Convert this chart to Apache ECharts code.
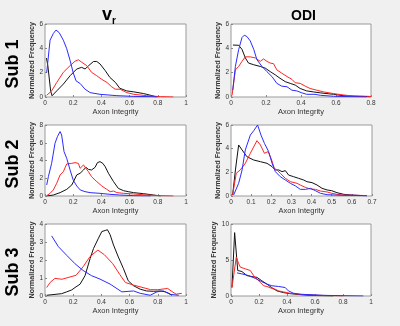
<!DOCTYPE html>
<html lang="en">
<head>
    <meta charset="UTF-8">
    <title>Axon integrity histograms</title>
    <script src="https://cdn.jsdelivr.net/npm/echarts@6/dist/echarts.min.js"></script>
    <style>
        *{margin:0;padding:0;overflow:hidden;}
        body{background:#f0f0f0;}
        #main{width:400px;height:326px;}
    </style>
</head>
<body>
<div id="main"></div>
<script>
    // [axon integrity, normalized frequency]
    var sub1VrBlue=[[0.012,2.0],[0.036,4.67],[0.059,5.22],[0.078,5.5],[0.10,5.3],[0.13,4.67],[0.154,3.97],[0.178,3.0],[0.20,2.0],[0.22,1.33],[0.25,1.1],[0.284,0.64],[0.32,0.36],[0.39,0.22],[0.51,0.11],[0.63,0.05],[0.75,0.03],[0.8,0]]
    var sub1VrRed=[[0.012,0.14],[0.047,0.5],[0.083,1.19],[0.13,2.03],[0.178,2.58],[0.213,2.94],[0.237,3.06],[0.26,2.86],[0.272,3.0],[0.296,2.58],[0.33,2.03],[0.367,1.75],[0.40,1.47],[0.44,1.19],[0.474,0.83],[0.498,0.64],[0.533,0.64],[0.58,0.36],[0.63,0.22],[0.72,0.11],[0.82,0.03],[0.91,0]]
    var sub1VrBlack=[[0.01,3.2],[0.02,2.6],[0.04,0.5],[0.05,0.1],[0.083,0.5],[0.13,1.06],[0.178,1.75],[0.225,2.3],[0.26,2.44],[0.284,2.3],[0.31,2.58],[0.344,2.92],[0.367,2.92],[0.39,2.72],[0.427,2.17],[0.46,1.61],[0.50,1.19],[0.53,0.72],[0.58,0.5],[0.63,0.42],[0.70,0.28],[0.77,0.08],[0.79,0]]

    var sub1OdiBlue=[[0.01,0.56],[0.025,2.51],[0.044,3.91],[0.063,4.89],[0.076,5.08],[0.091,4.97],[0.11,4.61],[0.13,3.91],[0.148,3.07],[0.177,2.51],[0.205,2.09],[0.234,1.68],[0.262,1.12],[0.29,0.89],[0.32,0.84],[0.348,0.56],[0.376,0.5],[0.405,0.34],[0.433,0.22],[0.48,0.22],[0.51,0.14],[0.586,0.06],[0.68,0.03],[0.776,0]]
    var sub1OdiRed=[[0.006,0.14],[0.025,2.23],[0.044,2.51],[0.063,2.93],[0.082,3.3],[0.11,3.3],[0.139,3.21],[0.167,2.93],[0.186,3.13],[0.205,2.93],[0.224,2.79],[0.243,2.74],[0.262,2.23],[0.29,1.96],[0.32,1.68],[0.348,1.45],[0.367,1.17],[0.395,1.12],[0.424,0.89],[0.452,0.7],[0.49,0.56],[0.528,0.42],[0.586,0.28],[0.64,0.17],[0.70,0.08],[0.776,0.06],[0.8,0.04]]
    var sub1OdiBlack=[[0.011,4.27],[0.044,4.25],[0.063,3.91],[0.082,3.21],[0.10,2.79],[0.13,2.65],[0.167,2.51],[0.196,2.37],[0.224,2.09],[0.253,1.82],[0.28,1.54],[0.31,1.26],[0.338,1.12],[0.367,0.98],[0.395,0.7],[0.433,0.5],[0.47,0.42],[0.51,0.34],[0.586,0.22],[0.64,0.11],[0.72,0.06],[0.795,0.03]]

    var sub2VrBlue=[[0.012,1.24],[0.024,2.18],[0.047,3.68],[0.071,5.94],[0.088,6.69],[0.107,7.26],[0.118,6.88],[0.135,5.0],[0.154,4.25],[0.178,2.93],[0.2,1.8],[0.225,1.13],[0.25,0.68],[0.284,0.49],[0.32,0.38],[0.39,0.3],[0.46,0.19],[0.53,0.11],[0.63,0.04],[0.75,0]]
    var sub2VrRed=[[0.012,0.04],[0.036,0.3],[0.059,0.68],[0.083,1.43],[0.107,2.37],[0.13,2.74],[0.154,3.61],[0.166,3.8],[0.19,3.68],[0.2,3.5],[0.213,3.76],[0.237,3.68],[0.249,3.12],[0.273,3.5],[0.29,3.12],[0.308,2.74],[0.33,2.18],[0.367,1.62],[0.403,1.13],[0.438,0.75],[0.462,0.49],[0.486,0.56],[0.51,0.38],[0.557,0.3],[0.628,0.23],[0.72,0.11],[0.82,0.04],[0.91,0]]
    var sub2VrBlack=[[0.012,0],[0.059,0.11],[0.107,0.38],[0.154,0.75],[0.19,1.24],[0.225,2.37],[0.249,2.56],[0.273,2.93],[0.29,3.23],[0.308,3.0],[0.33,2.93],[0.355,3.23],[0.372,3.76],[0.39,3.87],[0.41,3.68],[0.427,3.3],[0.45,2.56],[0.486,1.62],[0.52,0.86],[0.557,0.6],[0.59,0.49],[0.628,0.38],[0.7,0.26],[0.77,0.11],[0.82,0]]

    var sub2OdiBlue=[[0.013,0.08],[0.038,1.07],[0.055,2.2],[0.071,3.89],[0.096,5.15],[0.113,5.52],[0.132,6.0],[0.149,5.15],[0.166,4.45],[0.187,3.75],[0.204,2.76],[0.22,2.06],[0.245,1.63],[0.27,1.35],[0.295,1.07],[0.32,0.85],[0.344,0.56],[0.37,0.56],[0.394,0.65],[0.419,0.45],[0.444,0.23],[0.477,0.11],[0.543,0.06],[0.626,0.06],[0.675,0]]
    var sub2OdiRed=[[0.008,0.08],[0.026,1.92],[0.046,2.2],[0.071,2.76],[0.096,3.61],[0.129,4.68],[0.146,4.31],[0.166,3.61],[0.184,3.75],[0.199,3.18],[0.215,2.34],[0.228,2.2],[0.245,1.92],[0.27,1.49],[0.295,1.21],[0.328,1.07],[0.344,0.93],[0.369,0.73],[0.394,0.59],[0.419,0.56],[0.444,0.42],[0.477,0.34],[0.5,0.23],[0.526,0.14],[0.56,0.08],[0.626,0.06],[0.675,0.03]]
    var sub2OdiBlack=[[0.008,0.08],[0.022,2.2],[0.038,4.31],[0.055,3.89],[0.079,3.32],[0.113,3.04],[0.146,2.9],[0.179,2.76],[0.204,2.48],[0.22,2.2],[0.237,2.2],[0.253,2.06],[0.27,2.14],[0.286,1.77],[0.311,1.63],[0.336,1.49],[0.361,1.35],[0.377,1.21],[0.402,1.13],[0.427,0.93],[0.452,0.65],[0.477,0.51],[0.5,0.45],[0.526,0.28],[0.56,0.14],[0.61,0.06],[0.64,0.03]]

    var sub3VrBlue=[[0.047,3.34],[0.095,2.74],[0.154,2.26],[0.213,1.79],[0.27,1.42],[0.33,1.13],[0.39,0.94],[0.462,0.66],[0.545,0.23],[0.628,0.28],[0.675,0.15],[0.746,0.04],[0.794,0.23],[0.84,0.28],[0.89,0.09],[0.948,0.04]]
    var sub3VrRed=[[0.012,0.47],[0.036,0.75],[0.07,0.98],[0.12,0.93],[0.17,1.04],[0.22,1.15],[0.27,1.62],[0.32,2.2],[0.375,2.55],[0.42,2.3],[0.48,1.8],[0.53,1.2],[0.57,0.75],[0.63,0.6],[0.68,0.5],[0.75,0.35],[0.8,0.35],[0.87,0.42],[0.9,0.25],[0.93,0.1],[0.97,0.15]]
    var sub3VrBlack=[[0.012,0.04],[0.071,0.09],[0.118,0.13],[0.154,0.23],[0.19,0.34],[0.213,0.47],[0.249,0.66],[0.284,1.13],[0.32,2.08],[0.344,2.64],[0.379,3.21],[0.403,3.58],[0.427,3.64],[0.443,3.68],[0.462,3.4],[0.486,2.83],[0.52,2.17],[0.557,1.51],[0.59,0.85],[0.628,0.57],[0.675,0.38],[0.72,0.28],[0.77,0.26],[0.82,0.28],[0.853,0.23],[0.877,0.15],[0.9,0.04]]

    var sub3OdiBlue=[[0.043,3.21],[0.078,3.07],[0.126,2.83],[0.173,2.45],[0.22,1.98],[0.257,1.65],[0.292,1.42],[0.34,1.32],[0.387,1.18],[0.41,0.71],[0.447,0.38],[0.494,0.24],[0.565,0.19],[0.66,0.09],[0.78,0.05],[0.945,0]]
    var sub3OdiRed=[[0.007,1.18],[0.019,2.83],[0.038,5.42],[0.055,4.48],[0.067,4.0],[0.102,3.77],[0.138,3.54],[0.162,2.83],[0.185,2.36],[0.209,1.89],[0.233,1.42],[0.257,1.32],[0.292,1.04],[0.316,0.94],[0.34,0.71],[0.375,0.57],[0.42,0.38],[0.494,0.24],[0.565,0.14],[0.637,0.09],[0.73,0.05],[0.8,0]]
    var sub3OdiBlack=[[0.007,1.18],[0.026,8.8],[0.048,3.54],[0.078,3.4],[0.114,2.83],[0.15,2.69],[0.185,2.59],[0.22,2.12],[0.257,1.65],[0.29,1.18],[0.328,0.71],[0.375,0.47],[0.42,0.33],[0.494,0.19],[0.565,0.09],[0.637,0.05],[0.73,0]]

    // axis ranges per panel: [xMax, xStep, yMax, yStep]
    var panelAxes=[[1,0.2,6,2],[0.8,0.2,6,2],[1,0.2,8,2],[0.7,0.1,6,2],[1,0.2,4,1],[1,0.2,10,5]]
    var panelData=[
        [sub1VrBlue,sub1VrRed,sub1VrBlack],[sub1OdiBlue,sub1OdiRed,sub1OdiBlack],
        [sub2VrBlue,sub2VrRed,sub2VrBlack],[sub2OdiBlue,sub2OdiRed,sub2OdiBlack],
        [sub3VrBlue,sub3VrRed,sub3VrBlack],[sub3OdiBlue,sub3OdiRed,sub3OdiBlack]
    ]
    var rowLabels=['Sub 1','Sub 2','Sub 3']
    var lineColors=['#2b2bff','#ff2424','#111111']

    var boxes=[[45,24,141,73],[231,24,140,73],[45,125,141,71],[231,125,141,71],[45,224,141,72],[231,224,140,72]]

    var grid=[],xAxis=[],yAxis=[],series=[]
    for (var i=0;i<6;i++){
        var b=boxes[i],ax=panelAxes[i]
        grid.push({left:b[0],top:b[1],width:b[2],height:b[3],show:true,backgroundColor:'#fff',borderColor:'#9a9a9a',borderWidth:1})
        xAxis.push({type:'value',gridIndex:i,min:0,max:ax[0],interval:ax[1],
            name:'Axon Integrity',nameLocation:'middle',nameGap:10,
            nameTextStyle:{fontSize:7.5,color:'#333',fontFamily:'Liberation Sans'},
            axisLine:{show:false},axisTick:{inside:true,length:2,lineStyle:{color:'#888'}},
            splitLine:{show:false},
            axisLabel:{fontSize:6.5,color:'#333',margin:3,fontFamily:'Liberation Sans',
                formatter:function(v){return +v.toFixed(1)+''}}})
        yAxis.push({type:'value',gridIndex:i,min:0,max:ax[2],interval:ax[3],
            name:'Normalized Frequency',nameLocation:'middle',nameGap:7,
            nameTextStyle:{fontSize:7.2,color:'#333',fontWeight:'bold',fontFamily:'Liberation Sans'},
            axisLine:{show:false},axisTick:{inside:true,length:2,lineStyle:{color:'#888'}},
            splitLine:{show:false},
            axisLabel:{fontSize:6.5,color:'#333',margin:2,fontFamily:'Liberation Sans'}})
        for (var k=0;k<3;k++){
            series.push({type:'line',xAxisIndex:i,yAxisIndex:i,data:panelData[i][k],
                showSymbol:false,lineStyle:{color:lineColors[k],width:1},z:3-k})
        }
    }

    var graphic=[]
    var rowCenters=[64,164,272]
    for (var r=0;r<3;r++){
        graphic.push({type:'text',x:13,y:rowCenters[r],rotation:Math.PI/2,
            style:{text:rowLabels[r],fontSize:18,fontWeight:'bold',fill:'#000',
                fontFamily:'Liberation Sans',align:'center',verticalAlign:'middle'}})
    }

    var chart=echarts.init(document.getElementById('main'),null,{renderer:'canvas'})
    chart.setOption({
        backgroundColor:'#f0f0f0',
        animation:false,
        title:[
            {text:'{a|v}{b|r}',left:97,top:1,textStyle:{rich:{
                a:{fontSize:18,fontWeight:'bold',fontFamily:'Liberation Sans',color:'#000',verticalAlign:'bottom',lineHeight:18},
                b:{fontSize:10,fontWeight:'bold',fontFamily:'Liberation Sans',color:'#000',verticalAlign:'bottom',lineHeight:18,padding:[0,0,-2,0]}}}},
            {text:'ODI',left:286,top:4,textStyle:{fontSize:14,fontWeight:'bold',fontFamily:'Liberation Sans',color:'#000'}}
        ],
        grid:grid,xAxis:xAxis,yAxis:yAxis,series:series,graphic:graphic
    })
</script>
</body>
</html>
